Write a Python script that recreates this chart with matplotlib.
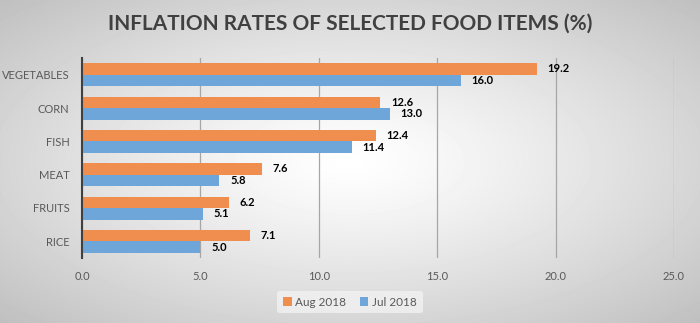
import numpy as np
import matplotlib.pyplot as plt

plt.rcParams['font.family'] = ['Lato', 'DejaVu Sans']

categories = ['VEGETABLES', 'CORN', 'FISH', 'MEAT', 'FRUITS', 'RICE']
aug_2018 = [19.2, 12.6, 12.4, 7.6, 6.2, 7.1]
jul_2018 = [16.0, 13.0, 11.4, 5.8, 5.1, 5.0]

orange = '#EF8E4F'
blue = '#6FA6DA'
text_gray = '#595959'

fig = plt.figure(figsize=(7.0, 3.23), dpi=100)

# radial gradient backdrop
bg = fig.add_axes([0, 0, 1, 1], zorder=-10)
yy, xx = np.mgrid[-1:1:323j, -1:1:700j]
r = np.sqrt(xx ** 2 + yy ** 2) / np.sqrt(2)
shade = 1.0 - 0.25 * np.clip(r, 0, 1) ** 1.2
bg.imshow(shade, cmap='gray', vmin=0, vmax=1, aspect='auto', extent=[0, 1, 0, 1])
bg.set_axis_off()

ax = fig.add_axes([82 / 700, 1 - 258 / 323, (674 - 82) / 700, 200 / 323])
ax.patch.set_alpha(0)

n = len(categories)
index = np.arange(n)[::-1]
bar_h = 0.345

ax.barh(index + bar_h / 2, aug_2018, bar_h, color=orange, label='Aug 2018', zorder=3)
ax.barh(index - bar_h / 2, jul_2018, bar_h, color=blue, label='Jul 2018', zorder=3)

for i, v in zip(index, aug_2018):
    ax.text(v + 0.45, i + bar_h / 2, f'{v:.1f}', va='center', ha='left',
            fontsize=8, fontweight='bold', color='black', zorder=4)
for i, v in zip(index, jul_2018):
    ax.text(v + 0.45, i - bar_h / 2, f'{v:.1f}', va='center', ha='left',
            fontsize=8, fontweight='bold', color='black', zorder=4)

ax.set_xlim(0, 25)
ax.set_ylim(-0.5, n - 0.5)
ax.set_xticks(np.arange(0, 26, 5))
ax.set_xticklabels([f'{t:.1f}' for t in np.arange(0, 26, 5)])
ax.set_yticks(index)
ax.set_yticklabels(categories)
ax.tick_params(axis='both', length=0, labelsize=8, colors=text_gray)
ax.tick_params(axis='x', pad=9)
ax.tick_params(axis='y', pad=9)
ax.grid(axis='x', color='#a6a6a6', linewidth=0.9, zorder=0)
for side in ['top', 'right', 'bottom']:
    ax.spines[side].set_visible(False)
ax.spines['left'].set_color('#404040')
ax.spines['left'].set_linewidth(1.5)
ax.spines['left'].set_zorder(5)

fig.text(0.5, 1 - 24 / 323, 'INFLATION RATES OF SELECTED FOOD ITEMS (%)',
         ha='center', va='center', fontsize=15, fontweight='bold', color='#404040')

leg = fig.legend(loc='center', bbox_to_anchor=(0.5, 1 - 302 / 323), ncol=2,
                 frameon=True, fontsize=8.5, handlelength=0.7, handleheight=0.7,
                 handletextpad=0.3, columnspacing=1.2, borderpad=0.5)
leg.get_frame().set_facecolor('#f2f2f2')
leg.get_frame().set_edgecolor('none')
leg.get_frame().set_alpha(0.8)
for t in leg.get_texts():
    t.set_color(text_gray)

fig.savefig('out.png', dpi=100)
